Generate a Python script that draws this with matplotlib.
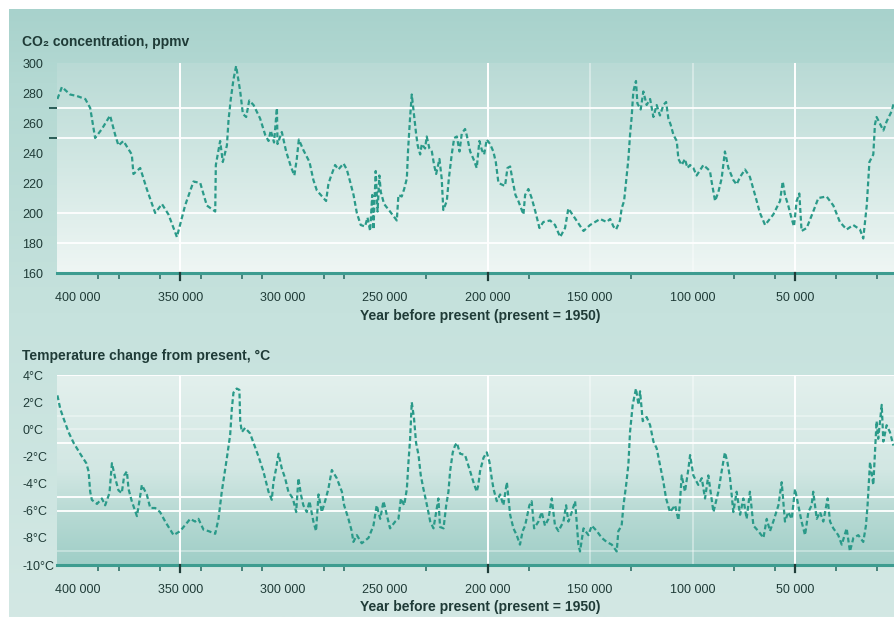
import numpy as np
import matplotlib.pyplot as plt
from matplotlib.colors import LinearSegmentedColormap

plt.rcParams['font.family'] = ['Liberation Sans', 'DejaVu Sans']

# Vostok ice core (thousand years before 1950)
co2_kyr = [409.9, 407.7, 403.7, 400.4, 396.3, 393.9, 391.5, 388.2, 384.2, 381.7,
           380.1, 377.7, 373.6, 372.8, 369.5, 366.3, 362.2, 358.9, 355.7, 351.6,
           347.6, 343.5, 340.2, 337.0, 332.9, 332.6, 330.5, 329.2, 327.2, 326.4,
           325.3, 324.0, 322.7, 320.7, 319.4, 317.8, 316.3, 314.2, 311.0, 308.5,
           306.9, 305.8, 304.2, 302.8, 302.5, 300.4, 298.3, 296.0, 294.3, 293.1,
           292.1, 289.9, 286.9, 285.0, 283.3, 278.8, 277.7, 276.8, 274.4, 272.8,
           270.3, 268.7, 267.1, 265.4, 263.8, 261.9, 259.8, 258.6, 257.3, 256.3,
           255.7, 254.6, 253.7, 252.8, 252.1, 250.5, 247.6, 244.3, 243.5, 241.9,
           240.7, 239.4, 238.8, 237.8, 237.0, 236.2, 234.9, 234.1, 232.9, 232.1,
           230.5, 229.7, 228.4, 227.2, 226.1, 225.1, 223.5, 222.4, 221.6, 219.9,
           218.9, 217.5, 216.3, 215.0, 213.7, 212.6, 211.0, 210.2, 208.5, 206.9,
           205.3, 204.0, 202.8, 201.7, 200.4, 198.8, 197.2, 196.0, 194.7, 191.5,
           190.3, 189.0, 187.7, 186.4, 185.0, 182.5, 181.7, 180.1, 178.5, 176.7,
           174.7, 172.8, 169.5, 167.1, 164.6, 162.2, 160.6, 158.1, 153.2, 150.0,
           145.1, 141.9, 140.2, 138.6, 137.3, 135.4, 134.6, 133.4, 132.4, 131.3,
           130.5, 129.7, 128.9, 127.6, 126.9, 125.3, 124.0, 122.4, 120.7, 119.1,
           117.5, 115.9, 114.2, 112.9, 111.8, 110.7, 109.3, 107.7, 106.9, 105.3,
           103.7, 102.5, 101.2, 99.6, 98.0, 94.7, 91.5, 90.7, 89.0, 87.4,
           85.8, 84.2, 82.5, 80.1, 78.5, 76.8, 74.4, 72.0, 69.5, 67.1,
           64.6, 60.6, 57.3, 56.0, 54.9, 53.3, 51.6, 50.5, 49.2, 47.9,
           46.8, 44.3, 41.1, 38.6, 34.6, 31.3, 28.1, 24.8, 21.6, 18.3,
           16.7, 15.0, 13.7, 11.8, 11.0, 10.2, 6.9, 5.3, 2.8, 1.7]
co2_ppmv = [276, 284, 279, 278, 276, 270, 250, 256, 265, 252,
            245, 248, 239, 226, 230, 216, 200, 206, 199, 184,
            205, 221, 220, 205, 201, 232, 248, 234, 245, 262,
            276, 289, 298, 281, 266, 264, 275, 272, 263, 252,
            248, 255, 247, 270, 246, 254, 241, 231, 225, 236,
            249, 242, 234, 222, 215, 208, 219, 223, 232, 229,
            233, 229, 221, 212, 200, 192, 191, 197, 188, 212,
            189, 228, 201, 225, 214, 206, 201, 195, 212, 211,
            216, 223, 242, 264, 279, 269, 253, 245, 239, 246,
            243, 251, 243, 241, 232, 226, 236, 223, 202, 208,
            223, 239, 250, 251, 241, 253, 256, 252, 241, 236,
            230, 248, 242, 239, 249, 246, 241, 234, 220, 218,
            230, 231, 221, 212, 208, 199, 212, 216, 210, 201,
            190, 194, 195, 192, 184, 190, 203, 198, 188, 192,
            196, 194, 196, 191, 189, 195, 203, 208, 221, 236,
            252, 264, 281, 288, 273, 269, 281, 272, 276, 264,
            272, 265, 272, 274, 263, 259, 252, 248, 236, 232,
            236, 230, 232, 230, 225, 232, 228, 221, 208, 214,
            223, 241, 230, 222, 219, 224, 229, 224, 212, 200,
            192, 199, 208, 221, 212, 205, 196, 191, 208, 213,
            188, 190, 201, 210, 211, 205, 194, 189, 192, 189,
            183, 205, 234, 239, 259, 264, 255, 261, 268, 274]

temp_kyr = [409.9, 408.5, 406.9, 404.5, 402.0, 398.8, 395.8, 394.7, 393.9, 393.1,
            390.6, 388.2, 386.6, 384.5, 383.3, 381.7, 380.1, 378.5, 377.3, 376.0,
            375.2, 373.6, 371.1, 369.8, 368.7, 366.3, 364.6, 362.2, 359.8, 357.3,
            353.2, 350.0, 345.1, 342.7, 341.1, 338.6, 336.2, 332.9, 331.3, 329.7,
            328.5, 327.2, 325.6, 324.8, 324.0, 322.4, 321.1, 320.7, 319.9, 318.3,
            315.9, 314.2, 311.8, 309.4, 306.9, 305.3, 304.5, 303.2, 302.0, 300.4,
            298.8, 297.2, 295.0, 293.4, 292.3, 291.1, 289.9, 288.2, 286.9, 285.0,
            283.7, 282.5, 280.9, 279.3, 277.7, 276.0, 273.6, 271.1, 270.0, 267.9,
            266.3, 265.5, 263.8, 261.4, 258.1, 255.7, 254.1, 252.4, 250.8, 249.2,
            247.6, 245.1, 243.5, 242.3, 240.7, 239.4, 238.6, 237.8, 237.0, 235.9,
            234.9, 233.7, 232.6, 231.3, 230.0, 228.9, 228.0, 226.4, 225.1, 224.0,
            223.2, 221.5, 220.2, 219.1, 218.3, 217.0, 215.9, 215.0, 213.4, 211.0,
            208.5, 206.9, 205.3, 204.5, 203.7, 202.0, 200.4, 199.1, 198.0, 197.1,
            195.5, 193.9, 192.3, 190.6, 189.0, 187.4, 185.8, 184.2, 182.9, 181.7,
            179.6, 178.5, 177.3, 175.2, 173.6, 172.0, 170.3, 168.7, 167.1, 165.4,
            163.0, 161.7, 160.6, 158.9, 157.3, 155.7, 154.9, 153.2, 150.8, 149.2,
            146.7, 144.3, 141.9, 139.4, 137.0, 136.2, 134.6, 133.7, 132.4, 131.3,
            130.5, 129.2, 127.6, 126.4, 125.6, 124.3, 122.4, 120.7, 119.1, 117.5,
            115.9, 114.2, 112.9, 111.0, 108.5, 106.9, 106.1, 105.3, 103.7, 102.0,
            101.2, 99.6, 97.2, 95.5, 93.9, 92.3, 89.8, 87.4, 85.8, 84.2,
            83.0, 81.7, 80.1, 78.5, 76.8, 75.2, 73.6, 72.0, 70.3, 67.9,
            65.4, 63.8, 62.2, 60.6, 58.1, 56.5, 54.9, 53.3, 51.6, 50.0,
            48.4, 46.8, 45.1, 43.5, 41.9, 41.1, 39.4, 37.8, 36.2, 34.1,
            32.9, 31.3, 28.9, 27.2, 24.8, 23.2, 21.5, 19.1, 16.7, 15.4,
            14.6, 13.4, 11.8, 10.2, 9.4, 7.7, 6.9, 5.3, 3.7, 2.0]
temp_c = [2.5, 1.5, 0.8, -0.2, -1.0, -1.8, -2.5, -3.1, -4.6, -5.2,
          -5.5, -5.1, -5.6, -4.7, -2.5, -3.6, -4.5, -4.7, -3.4, -3.1,
          -4.4, -5.3, -6.4, -5.2, -4.1, -4.8, -5.8, -5.8, -6.1, -6.8,
          -7.8, -7.5, -6.6, -6.8, -6.6, -7.4, -7.5, -7.7, -6.6, -4.6,
          -3.4, -2.1, -0.4, 1.5, 2.7, 3.0, 2.9, 0.6, -0.2, 0.1,
          -0.3, -1.0, -2.0, -3.1, -4.6, -5.2, -3.9, -2.9, -1.8, -2.9,
          -3.6, -4.6, -5.1, -6.1, -3.6, -4.8, -5.6, -6.1, -5.3, -6.8,
          -7.5, -4.8, -6.1, -5.3, -4.4, -3.0, -3.6, -4.6, -5.6, -6.6,
          -7.5, -8.3, -7.8, -8.4, -8.0, -7.1, -5.6, -6.6, -5.3, -6.3,
          -7.3, -6.8, -6.6, -5.1, -5.6, -4.4, -2.4, -0.7, 2.0, 0.8,
          -1.0, -1.9, -3.4, -4.4, -5.3, -6.1, -6.8, -7.3, -6.1, -5.1,
          -7.2, -7.3, -5.6, -4.6, -3.1, -1.7, -1.2, -1.0, -1.8, -1.9,
          -3.1, -3.9, -4.6, -4.1, -3.1, -2.1, -1.7, -2.4, -3.6, -4.4,
          -5.3, -4.8, -5.6, -3.9, -6.3, -7.3, -7.8, -8.5, -7.5, -7.1,
          -5.6, -5.3, -7.3, -6.8, -6.1, -7.1, -6.6, -5.1, -7.1, -7.5,
          -6.8, -5.6, -6.8, -6.1, -5.3, -8.5, -9.0, -7.3, -7.8, -7.1,
          -7.5, -8.0, -8.3, -8.5, -9.0, -7.5, -7.1, -5.6, -4.1, -2.6,
          -0.2, 1.8, 3.0, 1.8, 2.8, 0.6, 0.9, 0.3, -0.9, -1.4,
          -2.6, -3.9, -5.1, -6.1, -5.6, -6.7, -5.3, -3.4, -4.6, -2.9,
          -1.9, -3.4, -4.1, -3.6, -5.1, -3.4, -6.1, -4.6, -3.1, -1.7,
          -2.4, -3.6, -6.1, -4.6, -6.3, -5.1, -6.6, -4.6, -7.1, -7.5,
          -8.0, -6.6, -7.5, -6.8, -5.6, -3.9, -6.8, -6.1, -6.6, -4.4,
          -5.6, -6.8, -7.8, -6.1, -5.6, -4.6, -6.6, -6.1, -6.8, -5.1,
          -6.8, -7.3, -7.8, -8.5, -7.3, -9.0, -8.0, -7.8, -8.3, -7.1,
          -5.6, -2.4, -4.1, 0.6, -0.7, 1.8, -0.9, 0.3, -0.2, -1.2]

year_ticks = [400000, 350000, 300000, 250000, 200000, 150000, 100000, 50000]
year_labels = ['400 000', '350 000', '300 000', '250 000', '200 000', '150 000', '100 000', '50 000']
small_ticks_kyr = [390, 380, 360, 340, 320, 310, 280, 270, 230, 180, 130, 100, 80, 60, 30, 10]
strong_ticks = [350000, 200000, 50000]

co2_ticks = [300, 280, 260, 240, 220, 200, 180, 160]
co2_labels = ['300', '280', '260', '240', '220', '200', '180', '160']
co2_dash = [270, 250, 200, 180, 160]
co2_grid = [270, 250, 200, 180]

temp_ticks = [4, 2, 0, -2, -4, -6, -8, -10]
temp_labels = ['4°C', '2°C', '0°C', '-2°C', '-4°C', '-6°C', '-8°C', '-10°C']
temp_dash = [4, 0, -6, -10]
temp_grid = [4, -1, -5, -6]
temp_grid_faint = [1, 0, -9]

W, H = 894, 617
TXT = '#1f3b37'
LINE = '#2a9a89'

fig = plt.figure(figsize=(W / 100, H / 100), dpi=100)


def gradient(ax, stops, transform, extent, zorder=0):
    cmap = LinearSegmentedColormap.from_list('g', stops)
    img = np.linspace(0, 1, 256).reshape(-1, 1)
    ax.imshow(img, cmap=cmap, aspect='auto', origin='upper', extent=extent,
              transform=transform, zorder=zorder, interpolation='bilinear')


# page background
bg = fig.add_axes([0, 0, 1, 1])
bg.axis('off')
gradient(bg, [(0, '#a8d2cc'), (0.12, '#b4d9d3'), (0.5, '#c6e2dd'), (1, '#d3e8e4')],
         bg.transAxes, [9 / W, 1, 0, 1 - 9 / H])
bg.set_xlim(0, 1)
bg.set_ylim(0, 1)

left = 57 / W
ax1 = fig.add_axes([left, 1 - 273 / H, 1 - left, 210 / H])
ax2 = fig.add_axes([left, 1 - 565 / H, 1 - left, 190 / H])

gradient(ax1, ['#b9dad5', '#d3e8e4', '#eff6f4'], ax1.transAxes, [0, 1, 0, 1])
gradient(ax2, [(0, '#e3f0ed'), (0.5, '#d2e7e3'), (0.72, '#b8dad4'), (1, '#9fcec7')],
         ax2.transAxes, [0, 1, 0, 1])

# grid lines
for y in co2_grid:
    ax1.axhline(y, color='white', lw=1.4, alpha=0.9, zorder=1)
for y in temp_grid:
    ax2.axhline(y, color='white', lw=1.4, alpha=0.95, zorder=1)
for y in temp_grid_faint:
    ax2.axhline(y, color='white', lw=1.2, alpha=0.4, zorder=1)
for ax in (ax1, ax2):
    for x in strong_ticks:
        ax.axvline(x, color='white', lw=1.4, zorder=1)
    for x in (150000, 100000):
        ax.axvline(x, color='white', lw=1.2, alpha=0.45, zorder=1)

# data lines
dash = (0, (2.2, 1.3))
ax1.plot(np.array(co2_kyr) * 1000, co2_ppmv, color=LINE, lw=1.6, ls=dash, zorder=3)
ax2.plot(np.array(temp_kyr) * 1000, temp_c, color=LINE, lw=1.6, ls=dash, zorder=3)

ax1.set_ylim(160, 300)
ax2.set_ylim(-10, 4)

for ax, ticks, labels, dashes in ((ax1, co2_ticks, co2_labels, co2_dash),
                                  (ax2, temp_ticks, temp_labels, temp_dash)):
    ax.set_xlim(410100, 1700)
    ax.set_facecolor('none')
    for s in ('top', 'right', 'left'):
        ax.spines[s].set_visible(False)
    ax.spines['bottom'].set_color('#3d9c90')
    ax.spines['bottom'].set_linewidth(2.2)

    ax.set_xticks(year_ticks)
    ax.set_xticklabels(year_labels)
    ax.set_xticks(np.array(small_ticks_kyr) * 1000, minor=True)
    ax.tick_params(axis='x', which='major', length=0, pad=14, labelsize=9, labelcolor=TXT)
    ax.tick_params(axis='x', which='minor', length=4, width=1.2, color='#2f7168')
    for x in strong_ticks:
        ax.axvline(x, ymin=-0.035, ymax=0, color='#1f3d39', lw=1.6, clip_on=False, zorder=4)

    ax.set_yticks(ticks)
    ax.set_yticklabels(labels, ha='left')
    ax.set_yticks(dashes, minor=True)
    ax.tick_params(axis='y', which='major', length=0, pad=25, labelsize=9, labelcolor=TXT)
    ax.tick_params(axis='y', which='minor', length=6, width=1.4, color='#2a5c56')

fig.text(22 / W, 1 - 42 / H, 'CO₂ concentration, ppmv', fontsize=10, color=TXT,
         va='center', fontweight='bold')
fig.text(22 / W, 1 - 356 / H, 'Temperature change from present, °C', fontsize=10, color=TXT,
         va='center', fontweight='bold')
fig.text(480 / W, 1 - 316 / H, 'Year before present (present = 1950)', fontsize=10, color=TXT,
         ha='center', va='center', fontweight='bold')
fig.text(480 / W, 1 - 607 / H, 'Year before present (present = 1950)', fontsize=10, color=TXT,
         ha='center', va='center', fontweight='bold')

fig.savefig('out.png', dpi=100)
